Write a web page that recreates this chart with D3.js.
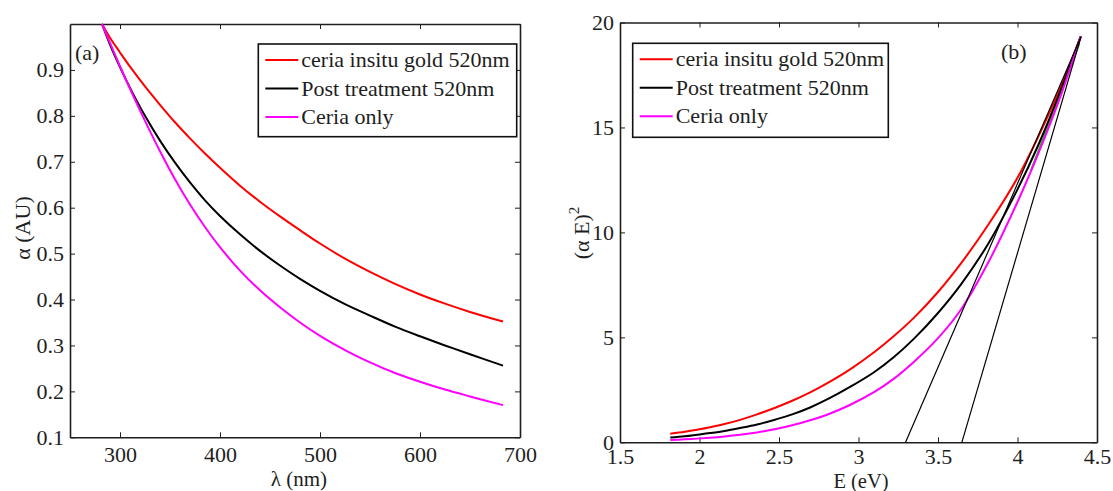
<html>
<head>
<script src="https://d3js.org/d3.v7.min.js"></script>
<style>
body { margin:0; background:#fff; }
text { font-family: "Liberation Serif", "Times New Roman", serif; }
</style>
</head>
<body>
<script>
var width = 1113;
var height = 491;

// panel (a): absorption vs wavelength
var lambda     = [282, 290, 300, 310, 325, 340, 355, 370, 385, 400, 420, 440, 460, 480, 500, 525, 550, 575, 600, 625, 650, 683];
var alphaGold  = [1.000, 0.970, 0.938, 0.907, 0.864, 0.824, 0.786, 0.751, 0.718, 0.687, 0.648, 0.613, 0.581, 0.551, 0.522, 0.489, 0.460, 0.434, 0.411, 0.391, 0.373, 0.352];
var alphaPost  = [1.000, 0.955, 0.906, 0.861, 0.800, 0.746, 0.698, 0.655, 0.616, 0.582, 0.542, 0.506, 0.474, 0.445, 0.419, 0.390, 0.365, 0.341, 0.320, 0.300, 0.281, 0.256];
var alphaCeria = [1.000, 0.959, 0.908, 0.859, 0.789, 0.723, 0.662, 0.607, 0.558, 0.514, 0.463, 0.420, 0.383, 0.350, 0.321, 0.290, 0.263, 0.240, 0.221, 0.204, 0.189, 0.170];

// panel (b): (alpha E)^2 vs photon energy
var energy  = [4.397, 4.276, 4.133, 4.000, 3.815, 3.647, 3.493, 3.351, 3.221, 3.100, 2.952, 2.818, 2.696, 2.583, 2.480, 2.362, 2.255, 2.157, 2.067, 1.984, 1.908, 1.816];
var aeGold  = [19.33, 17.0, 14.6, 12.6, 10.35, 8.55, 7.1, 5.95, 5.05, 4.30, 3.50, 2.88, 2.38, 1.98, 1.66, 1.33, 1.07, 0.87, 0.72, 0.60, 0.50, 0.41];
var aePost  = [19.33, 16.85, 14.2, 12.05, 9.45, 7.55, 6.10, 4.95, 4.05, 3.35, 2.66, 2.10, 1.66, 1.33, 1.09, 0.85, 0.68, 0.54, 0.44, 0.36, 0.29, 0.23];
var aeCeria = [19.33, 16.6, 13.8, 11.45, 8.55, 6.35, 4.9, 3.85, 3.02, 2.40, 1.80, 1.36, 1.05, 0.81, 0.63, 0.47, 0.36, 0.28, 0.22, 0.175, 0.14, 0.11];

// linear fits (tangents) drawn on panel (b)
var fit1E = [3.296, 4.40], fit1V = [0, 19.33];
var fit2E = [3.650, 4.40], fit2V = [0, 19.33];
var fitGreenE = [4.086, 4.389], fitGreenV = [12.97, 19.0];

var names  = ["ceria insitu gold 520nm", "Post treatment 520nm", "Ceria only"];
var colors = ["#ff0000", "#000000", "#ff00ff"];

var xTicksA = [300, 400, 500, 600, 700];
var yTicksA = [0.1, 0.2, 0.3, 0.4, 0.5, 0.6, 0.7, 0.8, 0.9];
var xTicksB = [1.5, 2, 2.5, 3, 3.5, 4, 4.5];
var yTicksB = [0, 5, 10, 15, 20];

var svg = d3.select("body").append("svg")
    .attr("width", width)
    .attr("height", height);

var xa = d3.scaleLinear().domain([250, 700]).range([70, 520]);
var ya = d3.scaleLinear().domain([0.1, 1.0]).range([437.3, 24]);
var xb = d3.scaleLinear().domain([1.5, 4.5]).range([620, 1097]);
var yb = d3.scaleLinear().domain([0, 20]).range([442.3, 22.5]);

function frame(x, y, xt, yt, yfmt, pad) {
    var g = svg.append("g").attr("color", "#1e1e1e");
    var r = y.range(), q = x.range();
    g.append("g")
        .attr("transform", "translate(0," + r[0] + ")")
        .call(d3.axisBottom(x).tickValues(xt).tickSize(-5).tickSizeOuter(0).tickPadding(pad)
            .tickFormat(function(d) { return d; }));
    g.append("g")
        .attr("transform", "translate(0," + r[1] + ")")
        .call(d3.axisTop(x).tickValues(xt).tickSize(-5).tickSizeOuter(0).tickFormat(""));
    g.append("g")
        .attr("transform", "translate(" + q[0] + ",0)")
        .call(d3.axisLeft(y).tickValues(yt).tickSize(-5).tickSizeOuter(0).tickPadding(6)
            .tickFormat(yfmt));
    g.append("g")
        .attr("transform", "translate(" + q[1] + ",0)")
        .call(d3.axisRight(y).tickValues(yt).tickSize(-5).tickSizeOuter(0).tickFormat(""));
    g.selectAll(".domain").attr("stroke-width", 1.6);
    g.selectAll(".tick line").attr("stroke-width", 1);
    g.selectAll("text")
        .attr("font-family", "Liberation Serif")
        .attr("font-size", 22)
        .attr("fill", "#1e1e1e");
}

frame(xa, ya, xTicksA, yTicksA, d3.format(".1f"), 9);
frame(xb, yb, xTicksB, yTicksB, function(d) { return d; }, 6.5);

// curves panel (a)
var lineA = d3.line()
    .x(function(d) { return xa(d[0]); })
    .y(function(d) { return ya(d[1]); })
    .curve(d3.curveCatmullRom.alpha(0.5));
[alphaGold, alphaPost, alphaCeria].forEach(function(s, i) {
    svg.append("path")
        .datum(lambda.map(function(l, j) { return [l, s[j]]; }))
        .attr("fill", "none")
        .attr("stroke", colors[i])
        .attr("stroke-width", 2)
        .attr("d", lineA);
});

// curves panel (b)
var lineB = d3.line()
    .x(function(d) { return xb(d[0]); })
    .y(function(d) { return yb(d[1]); })
    .curve(d3.curveCatmullRom.alpha(0.5));
svg.append("path")
    .datum(fitGreenE.map(function(e, j) { return [e, fitGreenV[j]]; }))
    .attr("fill", "none").attr("stroke", "#00d000").attr("stroke-width", 2)
    .attr("d", lineB);
[aeGold, aePost, aeCeria].forEach(function(s, i) {
    svg.append("path")
        .datum(energy.map(function(e, j) { return [e, s[j]]; }))
        .attr("fill", "none")
        .attr("stroke", colors[i])
        .attr("stroke-width", 2)
        .attr("d", lineB);
});
[[fit1E, fit1V], [fit2E, fit2V]].forEach(function(f) {
    svg.append("path")
        .datum(f[0].map(function(e, j) { return [e, f[1][j]]; }))
        .attr("fill", "none")
        .attr("stroke", "#000")
        .attr("stroke-width", 1.2)
        .attr("d", lineB);
});

// legends
function legend(x0, y0, w, h) {
    var g = svg.append("g");
    g.append("rect")
        .attr("x", x0).attr("y", y0).attr("width", w).attr("height", h)
        .attr("fill", "#fff").attr("stroke", "#111").attr("stroke-width", 1.6);
    names.forEach(function(n, i) {
        var yy = y0 + 16 + i * 28.5;
        g.append("line")
            .attr("x1", x0 + 7).attr("x2", x0 + 40)
            .attr("y1", yy).attr("y2", yy)
            .attr("stroke", colors[i]).attr("stroke-width", 2);
        g.append("text")
            .attr("x", x0 + 43).attr("y", yy + 7)
            .attr("font-size", 22).attr("fill", "#1e1e1e")
            .text(n);
    });
}
legend(258.3, 44, 258.4, 92.7);
legend(632.7, 43.3, 255.6, 94);

// panel tags
svg.append("text").attr("x", 75).attr("y", 60).attr("font-size", 22).attr("fill", "#1e1e1e").text("(a)");
svg.append("text").attr("x", 1001).attr("y", 59).attr("font-size", 22).attr("fill", "#1e1e1e").text("(b)");

// axis titles
svg.append("text").attr("x", 299).attr("y", 486).attr("text-anchor", "middle")
    .attr("font-size", 21).attr("fill", "#1e1e1e").text("λ (nm)");
svg.append("text").attr("x", 861).attr("y", 487.5).attr("text-anchor", "middle")
    .attr("font-size", 20.5).attr("fill", "#1e1e1e").text("E (eV)");
svg.append("text")
    .attr("transform", "translate(30,228) rotate(-90)")
    .attr("text-anchor", "middle")
    .attr("font-size", 22).attr("fill", "#1e1e1e").text("α (AU)");
var yt = svg.append("text")
    .attr("transform", "translate(589,233) rotate(-90)")
    .attr("text-anchor", "middle")
    .attr("font-size", 22).attr("fill", "#1e1e1e");
yt.append("tspan").text("(α E)");
yt.append("tspan").attr("dy", -10).attr("font-size", 15).text("2");
</script>
</body>
</html>
